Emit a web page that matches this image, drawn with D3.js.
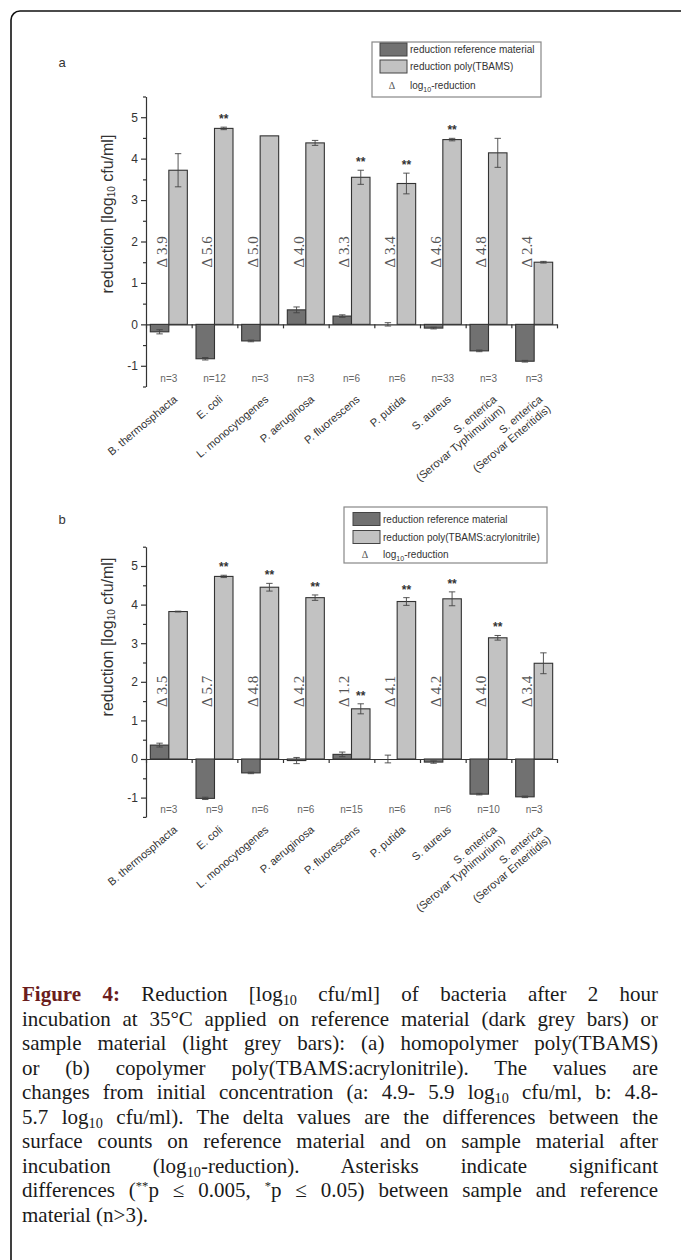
<!DOCTYPE html>
<html>
<head>
<meta charset="utf-8">
<style>
    body { margin: 0; background: #fff; }
    #page { position: relative; width: 681px; height: 1260px; overflow: hidden; }
    #page svg { position: absolute; left: 0; top: 0; }
    .axis text { font: 12px "Liberation Sans", Arial, sans-serif; fill: #333; }
    .axis path, .axis line { stroke: #333; stroke-width: 1.2; }
    .lbl { font-family: "Liberation Sans", Arial, sans-serif; fill: #333; }
    .delta { font-family: "Liberation Serif", "Times New Roman", serif; fill: #555; }
    .caption { position: absolute; left: 22px; top: 982px; width: 636px;
               font: 21px/24.5px "Liberation Serif", "Times New Roman", serif; color: #1a1a1a; }
    .caption div { text-align: justify; text-align-last: justify; }
    .caption div.last { text-align-last: left; }
    .caption sub { font-size: 0.68em; line-height: 0; vertical-align: -0.28em; }
    .caption sup { font-size: 0.6em; line-height: 0; vertical-align: 0.55em; }
    .caption b { color: #6b1d1d; }
</style>
<script src="https://d3js.org/d3.v7.min.js"></script>
</head>
<body>
<div id="page"></div>
<script>

    // bacteria (x categories), two-line names split in lines
    var categories = [["B. thermosphacta"], ["E. coli"], ["L. monocytogenes"], ["P. aeruginosa"],
                      ["P. fluorescens"], ["P. putida"], ["S. aureus"],
                      ["S. enterica", "(Serovar Typhimurium)"], ["S. enterica", "(Serovar Enteritidis)"]];
    var yTicks = [-1, 0, 1, 2, 3, 4, 5];

    // panel a: homopolymer poly(TBAMS)
    var refA       = [-0.18, -0.83, -0.40, 0.35, 0.20, 0.00, -0.09, -0.64, -0.89];
    var refErrA    = [0.05, 0.03, 0.02, 0.07, 0.03, 0.04, 0.02, 0.02, 0.02];
    var sampleA    = [3.72, 4.73, 4.55, 4.38, 3.55, 3.40, 4.46, 4.14, 1.50];
    var sampleErrA = [0.40, 0.03, 0.00, 0.06, 0.17, 0.25, 0.03, 0.35, 0.02];
    var deltaA     = ["3.9", "5.6", "5.0", "4.0", "3.3", "3.4", "4.6", "4.8", "2.4"];
    var nA         = [3, 12, 3, 3, 6, 6, 33, 3, 3];
    var sigA       = ["", "**", "", "", "**", "**", "**", "", ""];

    // panel b: copolymer poly(TBAMS:acrylonitrile)
    var refB       = [0.36, -1.02, -0.36, -0.04, 0.12, 0.00, -0.08, -0.91, -0.98];
    var refErrB    = [0.05, 0.03, 0.02, 0.08, 0.06, 0.10, 0.03, 0.02, 0.02];
    var sampleB    = [3.82, 4.73, 4.45, 4.18, 1.30, 4.08, 4.15, 3.14, 2.48];
    var sampleErrB = [0.01, 0.03, 0.10, 0.07, 0.13, 0.10, 0.18, 0.06, 0.27];
    var deltaB     = ["3.5", "5.7", "4.8", "4.2", "1.2", "4.1", "4.2", "4.0", "3.4"];
    var nB         = [3, 9, 6, 6, 15, 6, 6, 10, 3];
    var sigB       = ["", "**", "**", "**", "**", "**", "**", "**", ""];

    var darkFill = "#717171", lightFill = "#c2c2c2", barStroke = "#333";

    var panels = [
        { name: "a", sampleName: "reduction poly(TBAMS)",
          ref: refA, refErr: refErrA, smp: sampleA, smpErr: sampleErrA,
          delta: deltaA, n: nA, sig: sigA,
          top: 96.5, bottom: 386.5, labelY: 214, nameY: 62,
          legend: { x: 372, y: 42, w: 169, h: 55, sw: [8, 27, 13], rows: [7.5, 24.5, 43], dx: 20, tx: 38 } },
        { name: "b", sampleName: "reduction poly(TBAMS:acrylonitrile)",
          ref: refB, refErr: refErrB, smp: sampleB, smpErr: sampleErrB,
          delta: deltaB, n: nB, sig: sigB,
          top: 546.7, bottom: 816.9, labelY: 637, nameY: 519,
          legend: { x: 344, y: 507, w: 203, h: 56, sw: [9, 27, 13], rows: [12, 30, 47], dx: 21, tx: 39 } }
    ];

    var svg = d3.select("#page").append("svg")
                .attr("width", 681)
                .attr("height", 1260);

    // rounded frame round the whole figure
    svg.append("rect")
       .attr("x", 11).attr("y", 11)
       .attr("width", 720).attr("height", 1300)
       .attr("rx", 9)
       .attr("fill", "none")
       .attr("stroke", "#111")
       .attr("stroke-width", 1.6);

    var x0 = d3.scaleBand()
               .domain(d3.range(categories.length))
               .range([146, 557]);
    var x1 = d3.scaleBand()
               .domain(["ref", "smp"])
               .range([0, x0.bandwidth()])
               .paddingOuter(0.234);
    var xEdge = d3.scaleLinear()
                  .domain([0, categories.length])
                  .range([146, 557]);

    panels.forEach(function(p) {
        var g = svg.append("g");
        var y = d3.scaleLinear().domain([-1.5, 5.5]).range([p.bottom, p.top]);

        // y axis, major and minor ticks
        g.append("g")
         .attr("class", "axis")
         .attr("transform", "translate(146,0)")
         .call(d3.axisLeft(y).tickValues(yTicks).tickSize(5).tickSizeOuter(0)
                 .tickPadding(3).tickFormat(function(d) { return String(d); }));
        g.append("g")
         .attr("class", "axis")
         .attr("transform", "translate(146,0)")
         .call(d3.axisLeft(y).tickValues(d3.range(-1.5, 6, 1)).tickSize(3).tickFormat(""))
         .select(".domain").remove();

        // zero line with group ticks
        g.append("g")
         .attr("class", "axis")
         .attr("transform", "translate(0," + y(0) + ")")
         .call(d3.axisBottom(xEdge).tickValues(d3.range(categories.length + 1))
                 .tickSize(4).tickSizeOuter(0).tickFormat(""));

        // y title
        var yt = g.append("text")
                  .attr("class", "lbl")
                  .attr("transform", "translate(107," + p.labelY + ") rotate(-90)")
                  .attr("text-anchor", "middle")
                  .attr("dominant-baseline", "central")
                  .style("font-size", "16px");
        yt.append("tspan").text("reduction [log");
        yt.append("tspan").attr("dy", 4).style("font-size", "10px").text("10");
        yt.append("tspan").attr("dy", -4).text(" cfu/ml]");

        g.append("text")
         .attr("class", "lbl")
         .attr("x", 62).attr("y", p.nameY)
         .attr("text-anchor", "middle")
         .attr("dominant-baseline", "central")
         .style("font-size", "13px")
         .text(p.name);

        var grp = g.selectAll(".grp")
                   .data(categories)
                   .enter().append("g")
                   .attr("class", "grp")
                   .attr("transform", function(d, i) { return "translate(" + x0(i) + ",0)"; });

        function bar(key, vals, errs, fill) {
            grp.append("rect")
               .attr("x", x1(key))
               .attr("y", function(d, i) { return y(Math.max(0, vals[i])); })
               .attr("width", x1.bandwidth())
               .attr("height", function(d, i) { return Math.abs(y(vals[i]) - y(0)); })
               .attr("fill", fill)
               .attr("stroke", barStroke)
               .attr("stroke-width", 1.1);

            var cx = x1(key) + x1.bandwidth() / 2;
            var eb = grp.filter(function(d, i) { return errs[i] > 0; });
            eb.append("line")
              .attr("x1", cx).attr("x2", cx)
              .attr("y1", function(d) { var i = categories.indexOf(d); return y(vals[i] - errs[i]); })
              .attr("y2", function(d) { var i = categories.indexOf(d); return y(vals[i] + errs[i]); })
              .attr("stroke", "#444").attr("stroke-width", 0.9);
            [-1, 1].forEach(function(s) {
                eb.append("line")
                  .attr("x1", cx - 3.2).attr("x2", cx + 3.2)
                  .attr("y1", function(d) { var i = categories.indexOf(d); return y(vals[i] + s * errs[i]); })
                  .attr("y2", function(d) { var i = categories.indexOf(d); return y(vals[i] + s * errs[i]); })
                  .attr("stroke", "#444").attr("stroke-width", 0.9);
            });
        }
        bar("ref", p.ref, p.refErr, darkFill);
        bar("smp", p.smp, p.smpErr, lightFill);

        // significance stars
        grp.append("text")
           .attr("class", "lbl")
           .attr("x", x1("smp") + x1.bandwidth() / 2)
           .attr("y", function(d, i) { return y(p.smp[i] + p.smpErr[i]) - 4; })
           .attr("text-anchor", "middle")
           .style("font-size", "12px")
           .style("font-weight", "bold")
           .text(function(d, i) { return p.sig[i]; });

        // delta values
        grp.append("text")
           .attr("class", "delta")
           .attr("transform", "translate(" + (x1("ref") + x1.bandwidth() / 2 + 2) + "," + y(1.75) + ") rotate(-90)")
           .attr("text-anchor", "middle")
           .attr("dominant-baseline", "central")
           .style("font-size", "15px")
           .text(function(d, i) { return "\u0394 " + p.delta[i]; });

        // n per group
        grp.append("text")
           .attr("class", "lbl")
           .attr("x", x0.bandwidth() / 2)
           .attr("y", y(-1.3))
           .attr("text-anchor", "middle")
           .attr("dominant-baseline", "central")
           .style("font-size", "10px")
           .style("fill", "#666")
           .text(function(d, i) { return "n=" + p.n[i]; });

        // rotated category names
        var cat = grp.append("text")
                     .attr("class", "lbl")
                     .attr("transform", "translate(" + (x0.bandwidth() / 2 + 9) + "," + (p.bottom + 14) + ") rotate(-40)")
                     .attr("text-anchor", "end")
                     .style("font-size", "11px");
        cat.selectAll("tspan")
           .data(function(d) { return d; })
           .enter().append("tspan")
           .attr("x", 0)
           .attr("dy", function(d, j) { return j === 0 ? 0 : "1.15em"; })
           .text(function(d) { return d; });

        // legend
        var L = p.legend;
        var lg = g.append("g").attr("transform", "translate(" + L.x + "," + L.y + ")");
        lg.append("rect")
          .attr("width", L.w).attr("height", L.h)
          .attr("fill", "#fff").attr("stroke", "#888").attr("stroke-width", 1.2);
        var items = [["reduction reference material", darkFill], [p.sampleName, lightFill]];
        items.forEach(function(it, k) {
            lg.append("rect")
              .attr("x", L.sw[0]).attr("y", L.rows[k] - L.sw[2] / 2)
              .attr("width", L.sw[1]).attr("height", L.sw[2])
              .attr("fill", it[1]).attr("stroke", "#444").attr("stroke-width", 1);
            lg.append("text")
              .attr("class", "lbl")
              .attr("x", L.tx).attr("y", L.rows[k])
              .attr("dominant-baseline", "central")
              .style("font-size", "10px")
              .text(it[0]);
        });
        lg.append("text")
          .attr("class", "delta")
          .attr("x", L.dx).attr("y", L.rows[2])
          .attr("text-anchor", "middle")
          .attr("dominant-baseline", "central")
          .style("font-size", "10px")
          .text("\u0394");
        var lt = lg.append("text")
                   .attr("class", "lbl")
                   .attr("x", L.tx).attr("y", L.rows[2])
                   .attr("dominant-baseline", "central")
                   .style("font-size", "10px");
        lt.append("tspan").text("log");
        lt.append("tspan").attr("dy", 3.5).style("font-size", "7px").text("10");
        lt.append("tspan").attr("dy", -3.5).text("-reduction");
    });

    // figure caption
    var captionLines = [
        "<b>Figure 4:</b> Reduction [log<sub>10</sub> cfu/ml] of bacteria after 2 hour",
        "incubation at 35\u00b0C applied on reference material (dark grey bars) or",
        "sample material (light grey bars): (a) homopolymer poly(TBAMS)",
        "or (b) copolymer poly(TBAMS:acrylonitrile). The values are",
        "changes from initial concentration (a: 4.9- 5.9 log<sub>10</sub> cfu/ml, b: 4.8-",
        "5.7 log<sub>10</sub> cfu/ml). The delta values are the differences between the",
        "surface counts on reference material and on sample material after",
        "incubation (log<sub>10</sub>-reduction). Asterisks indicate significant",
        "differences (<sup>**</sup>p \u2264 0.005, <sup>*</sup>p \u2264 0.05) between sample and reference",
        "material (n&gt;3)."
    ];
    d3.select("#page").append("div")
      .attr("class", "caption")
      .selectAll("div")
      .data(captionLines)
      .enter().append("div")
      .attr("class", function(d, i) { return i === captionLines.length - 1 ? "last" : null; })
      .html(function(d) { return d; });
</script>
</body>
</html>
